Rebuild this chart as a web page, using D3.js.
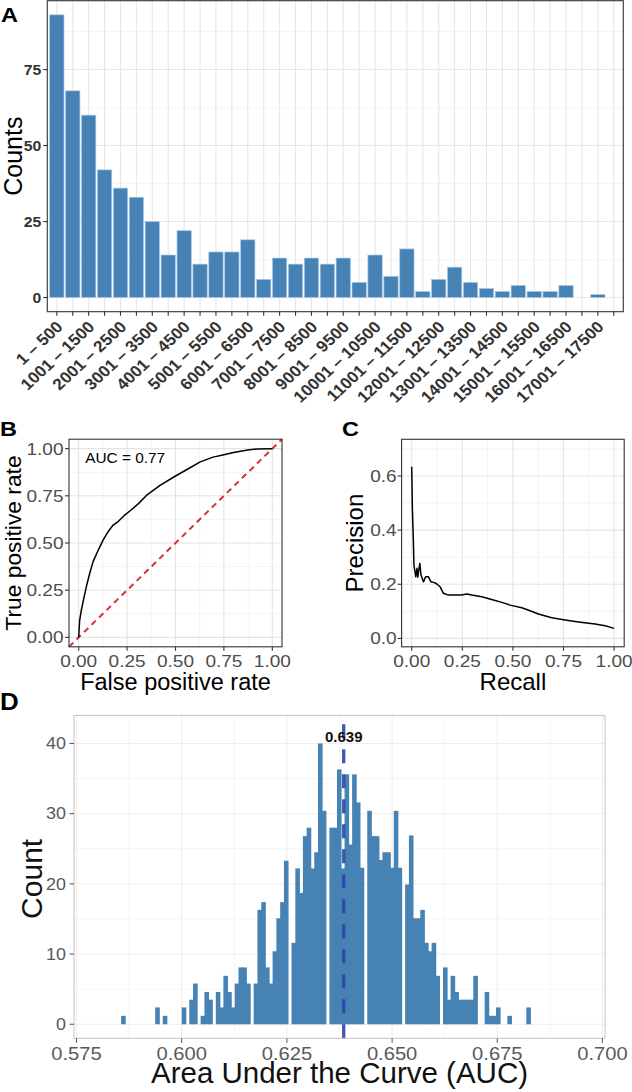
<!DOCTYPE html>
<html><head><meta charset="utf-8">
<script src="https://cdn.jsdelivr.net/npm/d3@7"></script>
<style>body{margin:0;background:#fff}text{font-family:"Liberation Sans",Arial,Helvetica,sans-serif}</style>
</head><body><svg id="c" width="632" height="1092"></svg>
<script>
// ---------- Panel A data ----------
const sizeBins = ["1 – 500","501 – 1000","1001 – 1500","1501 – 2000","2001 – 2500","2501 – 3000","3001 – 3500","3501 – 4000","4001 – 4500","4501 – 5000","5001 – 5500","5501 – 6000","6001 – 6500","6501 – 7000","7001 – 7500","7501 – 8000","8001 – 8500","8501 – 9000","9001 – 9500","9501 – 10000","10001 – 10500","10501 – 11000","11001 – 11500","11501 – 12000","12001 – 12500","12501 – 13000","13001 – 13500","13501 – 14000","14001 – 14500","14501 – 15000","15001 – 15500","15501 – 16000","16001 – 16500","16501 – 17000","17001 – 17500","17501 – 18000"];
const sizeCounts = [93,68,60,42,36,33,25,14,22,11,15,15,19,6,13,11,13,11,13,5,14,7,16,2,6,10,5,3,2,4,2,2,4,0,1,0];
const sizeTicks = [0,25,50,75];
const sizeMinor = [12.5,37.5,62.5,87.5];

// ---------- Panel B data (ROC) ----------
const rocFpr = [0,0.002,0.005,0.014,0.025,0.04,0.057,0.074,0.1,0.126,0.152,0.178,0.205,0.238,0.272,0.31,0.35,0.42,0.5,0.557,0.628,0.694,0.75,0.8,0.873,0.92,1];
const rocTpr = [0,0.04,0.09,0.145,0.2,0.27,0.34,0.4,0.46,0.515,0.56,0.595,0.615,0.648,0.676,0.71,0.752,0.805,0.855,0.888,0.93,0.955,0.968,0.98,0.993,0.998,1];
const rocLabel = "AUC = 0.77";
const unitTicks = [0,0.25,0.5,0.75,1];
const unitTickLabels = ["0.00","0.25","0.50","0.75","1.00"];
const unitMinor = [0.125,0.375,0.625,0.875];

// ---------- Panel C data (PR) ----------
const prRecall = [0,0.003,0.008,0.011,0.02,0.026,0.03,0.04,0.046,0.058,0.069,0.082,0.095,0.112,0.124,0.14,0.156,0.181,0.215,0.247,0.272,0.297,0.346,0.395,0.445,0.486,0.544,0.585,0.626,0.692,0.758,0.824,0.906,0.956,1.0];
const prPrecision = [0.634,0.486,0.363,0.271,0.228,0.259,0.226,0.277,0.234,0.209,0.228,0.228,0.209,0.206,0.201,0.191,0.167,0.160,0.160,0.160,0.164,0.160,0.154,0.144,0.133,0.123,0.113,0.102,0.090,0.076,0.068,0.061,0.053,0.047,0.037];
const precTicks = [0,0.2,0.4,0.6];
const precTickLabels = ["0.0","0.2","0.4","0.6"];
const precMinor = [0.1,0.3,0.5,0.7];

// ---------- Panel D data (AUC histogram) ----------
const aucBinStart = 0.5856;
const aucBinWidth = 0.0009;
const aucHeights = [
 1.2,0,0,0,0,0,0,0,0,2.4,
 0,1.2,0,0,0,0,2.4,0,3.5,5.8,
 0,1.2,4.6,3.5,0,4.6,2.4,6.9,4.6,2.4,
 5.8,8.1,8.1,5.8,0,5.8,16.3,17.4,8.1,5.8,
 10.4,15.1,17.4,23.3,0,11.6,22.2,18.7,26.8,28.0,
 22.2,24.5,40.0,30.4,0,28.0,28.0,36.3,22.2,35.6,
 25.6,35.6,31.6,22.3,0,30.4,26.8,26.8,23.4,24.5,
 24.5,22.3,30.4,22.3,0,19.9,26.9,15.1,15.1,16.3,
 11.6,10.4,11.6,6.9,0,8.1,3.5,6.9,4.6,3.5,
 3.5,3.5,3.5,6.9,0,0,4.6,1.2,1.2,2.4,
 0,0,1.2,0,0,0,0,2.4];
const aucTicks = [0.575,0.6,0.625,0.65,0.675,0.7];
const aucTickLabels = ["0.575","0.600","0.625","0.650","0.675","0.700"];
const aucMinor = [0.5875,0.6125,0.6375,0.6625,0.6875];
const countTicks = [0,10,20,30,40];
const countMinor = [5,15,25,35];
const aucMean = 0.6385;
const aucMeanLabel = "0.639";

// ---------- helpers ----------
const svg = d3.select("#c");
const SX = 1.12;
function txt(g, x, y, s, o) {
  o = o || {};
  return g.append("text")
    .attr("transform", `translate(${x},${y}) scale(${o.sx || 1},1) rotate(${o.rot || 0})`)
    .attr("text-anchor", o.anchor || "middle")
    .attr("font-size", o.size || 12)
    .attr("font-weight", o.weight || "normal")
    .attr("fill", o.color || "#000")
    .text(s);
}
function vlines(g, vals, x, y1, y2, color, w) {
  g.selectAll(null).data(vals).enter().append("line")
    .attr("x1", d => x(d)).attr("x2", d => x(d)).attr("y1", y1).attr("y2", y2)
    .attr("stroke", color).attr("stroke-width", w);
}
function hlines(g, vals, y, x1, x2, color, w) {
  g.selectAll(null).data(vals).enter().append("line")
    .attr("y1", d => y(d)).attr("y2", d => y(d)).attr("x1", x1).attr("x2", x2)
    .attr("stroke", color).attr("stroke-width", w);
}
function border(g, l, t, r, b, color, w) {
  g.append("rect").attr("x", l).attr("y", t).attr("width", r - l).attr("height", b - t)
    .attr("fill", "none").attr("stroke", color).attr("stroke-width", w);
}

// ================= Panel A =================
{
  const L = 47.3, R = 623.3, T = 0.7, B = 311.7;
  const g = svg.append("g");
  const x = d3.scalePoint().domain(sizeBins).range([L, R]).padding(0.6);
  const y = d3.scaleLinear().domain([-4.65, 97.65]).range([B, T]);
  const step = x.step();
  hlines(g, sizeMinor, y, L, R, "#ececec", 0.6);
  hlines(g, sizeTicks, y, L, R, "#e6e6e6", 1.1);
  vlines(g, sizeBins, x, T, B, "#e6e6e6", 1.1);
  g.selectAll(null).data(sizeCounts).enter().append("rect")
    .attr("x", (d, i) => x(sizeBins[i]) - step * 0.45)
    .attr("width", step * 0.9)
    .attr("y", d => y(d))
    .attr("height", d => y(0) - y(d))
    .attr("fill", "#4682b4").attr("stroke", "#a9cbe9").attr("stroke-width", 0.7);
  border(g, L, T, R, B, "#333", 1.1);
  g.selectAll(null).data(sizeTicks).enter().append("line")
    .attr("x1", L - 4).attr("x2", L).attr("y1", d => y(d)).attr("y2", d => y(d))
    .attr("stroke", "#333").attr("stroke-width", 1.1);
  g.selectAll(null).data(sizeBins).enter().append("line")
    .attr("x1", d => x(d)).attr("x2", d => x(d)).attr("y1", B).attr("y2", B + 4)
    .attr("stroke", "#333").attr("stroke-width", 1.1);
  sizeTicks.forEach(v => txt(g, L - 6, y(v) + 5.3, String(v), {anchor: "end", size: 15, sx: 1.05, color: "#333", weight: "bold"}));
  sizeBins.forEach((d, i) => {
    if (i % 2 === 0) txt(g, x(d) + 7, 328, d, {anchor: "end", size: 16, sx: 1.08, rot: -45, color: "#333", weight: "bold"});
  });
  txt(g, 22, (T + B) / 2, "Counts", {rot: -90, size: 25});
  txt(g, 1, 21.7, "A", {anchor: "start", size: 21, weight: "bold", sx: SX});
}

// ================= Panel B =================
{
  const L = 69, R = 282, T = 439.2, B = 646.8;
  const g = svg.append("g");
  const x = d3.scaleLinear().domain([-0.05, 1.05]).range([L, R]);
  const y = d3.scaleLinear().domain([-0.05, 1.05]).range([B, T]);
  vlines(g, unitMinor, x, T, B, "#ececec", 0.6);
  hlines(g, unitMinor, y, L, R, "#ececec", 0.6);
  vlines(g, unitTicks, x, T, B, "#e4e4e4", 1.1);
  hlines(g, unitTicks, y, L, R, "#e4e4e4", 1.1);
  g.append("line").attr("x1", x(-0.05)).attr("y1", y(-0.05)).attr("x2", x(1.05)).attr("y2", y(1.05))
    .attr("stroke", "#dc2f35").attr("stroke-width", 2).attr("stroke-dasharray", "6,4.5");
  const line = d3.line().x(d => x(d[0])).y(d => y(d[1]));
  g.append("path").datum(rocFpr.map((f, i) => [f, rocTpr[i]])).attr("d", line)
    .attr("fill", "none").attr("stroke", "#000").attr("stroke-width", 1.5).attr("stroke-linejoin", "round");
  border(g, L, T, R, B, "#333", 1.1);
  g.selectAll(null).data(unitTicks).enter().append("line")
    .attr("x1", L - 4).attr("x2", L).attr("y1", d => y(d)).attr("y2", d => y(d)).attr("stroke", "#333").attr("stroke-width", 1.1);
  g.selectAll(null).data(unitTicks).enter().append("line")
    .attr("x1", d => x(d)).attr("x2", d => x(d)).attr("y1", B).attr("y2", B + 4).attr("stroke", "#333").attr("stroke-width", 1.1);
  unitTicks.forEach((v, i) => {
    txt(g, L - 5.5, y(v) + 6, unitTickLabels[i], {anchor: "end", size: 17, sx: SX, color: "#4d4d4d"});
    txt(g, x(v), 667, unitTickLabels[i], {size: 17, sx: SX, color: "#4d4d4d"});
  });
  txt(g, x(0.24), y(0.95) + 5, rocLabel, {size: 14.5, sx: 1.06});
  txt(g, 20.8, (T + B) / 2, "True positive rate", {rot: -90, size: 22.8});
  txt(g, (L + R) / 2, 690, "False positive rate", {size: 23.5});
  txt(g, 0, 435.5, "B", {anchor: "start", size: 21, weight: "bold", sx: SX});
}

// ================= Panel C =================
{
  const L = 401.6, R = 624.2, T = 439.3, B = 646.8;
  const g = svg.append("g");
  const x = d3.scaleLinear().domain([-0.05, 1.05]).range([L, R]);
  const y = d3.scaleLinear().domain([-0.031, 0.7355]).range([B, T]);
  vlines(g, unitMinor, x, T, B, "#ececec", 0.6);
  hlines(g, precMinor, y, L, R, "#ececec", 0.6);
  vlines(g, unitTicks, x, T, B, "#e4e4e4", 1.1);
  hlines(g, precTicks, y, L, R, "#e4e4e4", 1.1);
  const line = d3.line().x(d => x(d[0])).y(d => y(d[1]));
  g.append("path").datum(prRecall.map((r, i) => [r, prPrecision[i]])).attr("d", line)
    .attr("fill", "none").attr("stroke", "#000").attr("stroke-width", 1.5).attr("stroke-linejoin", "round");
  border(g, L, T, R, B, "#333", 1.1);
  g.selectAll(null).data(precTicks).enter().append("line")
    .attr("x1", L - 4).attr("x2", L).attr("y1", d => y(d)).attr("y2", d => y(d)).attr("stroke", "#333").attr("stroke-width", 1.1);
  g.selectAll(null).data(unitTicks).enter().append("line")
    .attr("x1", d => x(d)).attr("x2", d => x(d)).attr("y1", B).attr("y2", B + 4).attr("stroke", "#333").attr("stroke-width", 1.1);
  precTicks.forEach((v, i) => txt(g, L - 5, y(v) + 6, precTickLabels[i], {anchor: "end", size: 17, sx: SX, color: "#4d4d4d"}));
  unitTicks.forEach((v, i) => txt(g, x(v), 667, unitTickLabels[i], {size: 17, sx: SX, color: "#4d4d4d"}));
  txt(g, 363, (T + B) / 2, "Precision", {rot: -90, size: 24});
  txt(g, (L + R) / 2, 690, "Recall", {size: 24});
  txt(g, 342, 435.5, "C", {anchor: "start", size: 21, weight: "bold", sx: SX});
}

// ================= Panel D =================
{
  const L = 74, R = 605, T = 715.4, B = 1038.3;
  const g = svg.append("g");
  const x = d3.scaleLinear().domain([0.5744, 0.7006]).range([L, R]);
  const y = d3.scaleLinear().domain([-2, 44]).range([B, T]);
  vlines(g, aucMinor, x, T, B, "#f3f3f3", 0.8);
  hlines(g, countMinor, y, L, R, "#f3f3f3", 0.8);
  vlines(g, aucTicks, x, T, B, "#ededed", 1);
  hlines(g, countTicks, y, L, R, "#ededed", 1);
  g.selectAll(null).data(aucHeights).enter().append("rect")
    .attr("x", (d, i) => x(aucBinStart + i * aucBinWidth))
    .attr("width", (d, i) => x(aucBinStart + (i + 1) * aucBinWidth) - x(aucBinStart + i * aucBinWidth) + 0.8)
    .attr("y", d => y(d))
    .attr("height", d => y(0) - y(d))
    .attr("fill", "#4682b4");
  g.append("line").attr("x1", x(aucMean)).attr("x2", x(aucMean)).attr("y1", B).attr("y2", T)
    .attr("stroke", "#2e46a6").attr("stroke-width", 3.3).attr("stroke-dasharray", "14,11").attr("opacity", 0.9);
  txt(g, x(aucMean), 741.5, aucMeanLabel, {size: 15, color: "#111", weight: "bold"});
  border(g, L, T, R, B, "#c4c4c4", 1);
  g.selectAll(null).data(countTicks).enter().append("line")
    .attr("x1", L - 4.5).attr("x2", L).attr("y1", d => y(d)).attr("y2", d => y(d)).attr("stroke", "#555").attr("stroke-width", 1);
  g.selectAll(null).data(aucTicks).enter().append("line")
    .attr("x1", d => x(d)).attr("x2", d => x(d)).attr("y1", B).attr("y2", B + 4.5).attr("stroke", "#555").attr("stroke-width", 1);
  countTicks.forEach(v => txt(g, L - 8, y(v) + 5.8, String(v), {anchor: "end", size: 16, sx: SX, color: "#5a5a5a"}));
  aucTicks.forEach((v, i) => txt(g, x(v), 1060, aucTickLabels[i], {size: 18, sx: SX, color: "#5a5a5a"}));
  txt(g, 42, (T + B) / 2 + 2, "Count", {rot: -90, size: 30, color: "#111"});
  txt(g, (L + R) / 2, 1083, "Area Under the Curve (AUC)", {size: 29.5, color: "#111"});
  txt(g, 0, 710, "D", {anchor: "start", size: 24, weight: "bold", sx: 1.08});
}
</script></body></html>
